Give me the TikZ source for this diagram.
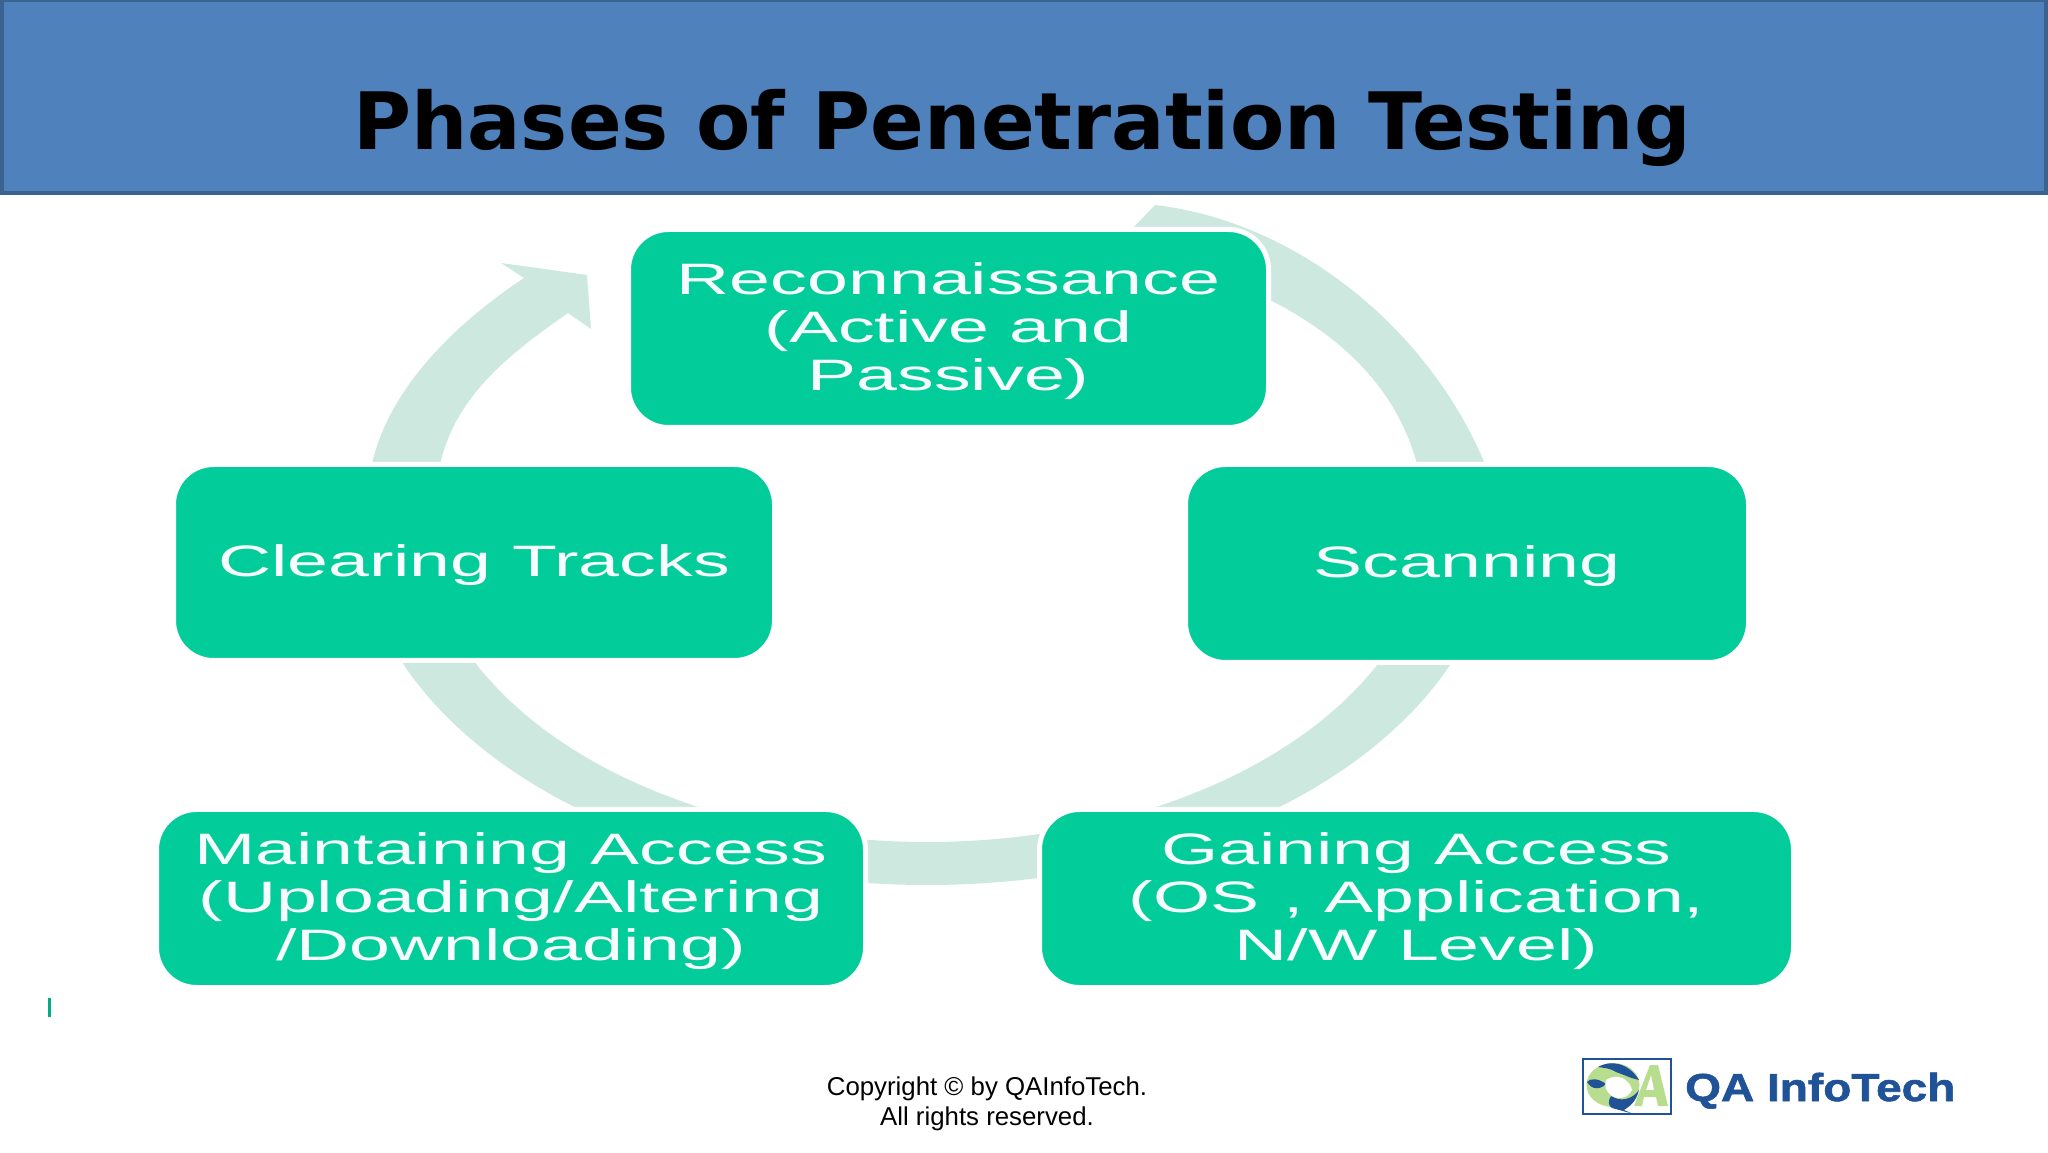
\documentclass[tikz,border=0pt]{standalone}
\usepackage{fontspec}
\setmainfont{Liberation Sans}
\newfontfamily\boxfont[FakeStretch=1.67]{Liberation Sans}
\newfontfamily\titlefont{DejaVu Sans}
\newfontfamily\logofont[FakeStretch=1.18,FakeBold=1.5]{Liberation Sans Bold}
\definecolor{headfill}{HTML}{4F81BD}
\definecolor{headline}{HTML}{3A6390}
\definecolor{boxgreen}{HTML}{02CC99}
\definecolor{ringcol}{HTML}{CDE9DF}
\definecolor{logoblue}{HTML}{1F5296}
\definecolor{logogreen}{HTML}{B9DD8E}
\tikzset{
  phase/.style={draw=white,line width=5pt,fill=boxgreen,rounded corners=40pt,inner sep=0pt},
  phasetext/.style={yshift=-3pt,inner sep=0pt,text=white!97!boxgreen,align=center,font=\boxfont\fontsize{44}{48}\selectfont},
  ring/.style={fill=ringcol,draw=none}
}
\begin{document}
\begin{tikzpicture}[x=1pt,y=1pt]
\useasboundingbox (0,0) rectangle (2048,1152);
\fill[white] (0,0) rectangle (2048,1152);
% header
\node[draw=headline,line width=4pt,fill=headfill,minimum width=2044pt,minimum height=193pt,inner sep=0pt] (header) at (1024,1055.5) {};
\node[font=\titlefont\bfseries\fontsize{79.2}{90}\selectfont,anchor=base,text=black] (title) at (1022,1002) {Phases of Penetration Testing};
% lower ring: left, behind Clearing, along the bottom, to Scanning
\fill[ring] (927,630) ++(172:569 and 363) arc[start angle=172,end angle=360,x radius=569,y radius=363]
  -- (1430,630) arc[start angle=0,end angle=-188,x radius=503,y radius=320] -- cycle;
% left arrow with head
\fill[ring] (372,688) .. controls (388,760) and (450,825) .. (524,874)
  -- (501,889) -- (587,877) -- (591,823) -- (568,839)
  .. controls (505,795) and (456,755) .. (440,688) -- cycle;
% upper right arrow
\fill[ring] (1133,924) -- (1155,947)
  .. controls (1300,930) and (1430,820) .. (1485,688)
  -- (1417,688) .. controls (1395,770) and (1330,830) .. (1230,870) -- cycle;
% phases
\node[phase,minimum width=640pt,minimum height=198pt,label={[phasetext]center:{Reconnaissance\\(Active and\\Passive)}}] (recon) at (948.5,823.5) {};
\node[phase,minimum width=563pt,minimum height=198pt,label={[phasetext]center:{Scanning}}] (scan) at (1467,588.5) {};
\node[phase,minimum width=601pt,minimum height=196pt,label={[phasetext]center:{Clearing Tracks}}] (clear) at (474,589.5) {};
\node[phase,minimum width=709pt,minimum height=178pt,label={[phasetext]center:{Maintaining Access\\(Uploading/Altering\\/Downloading)}}] (maint) at (511,253.5) {};
\node[phase,minimum width=754pt,minimum height=178pt,label={[phasetext]center:{Gaining Access\\(OS\hspace{4pt} , Application,\\N/W Level)}}] (gain) at (1416.5,253.5) {};
% tick
\fill[boxgreen!85!black] (47.5,135) rectangle (50.5,154);
% footer
\node[font=\fontsize{25.8}{30}\selectfont,align=center,text=black] (copy) at (987,48.5) {Copyright © by QAInfoTech.\\All rights reserved.};
% logo
\draw[logoblue,line width=2pt,fill=white] (1583,38) rectangle (1671,93);
\fill[logogreen,even odd rule] (1634,46) -- (1650,87) -- (1658,87) -- (1668,46) -- (1658,46) -- (1656,55) -- (1644,55) -- (1642,46) -- cycle
  (1646,62) -- (1654,62) -- (1651,77) -- cycle;
\fill[logogreen] (1613,67) ellipse (26.5pt and 22pt);
% globe seas
\fill[logoblue] (1598,85) .. controls (1610,92) and (1628,90) .. (1639,72) .. controls (1630,74) and (1622,78) .. (1616,80) .. controls (1610,84) and (1604,84) .. (1598,85) -- cycle;
\fill[logoblue] (1587,70) .. controls (1592,62) and (1600,62) .. (1606,68) .. controls (1598,74) and (1590,74) .. (1587,70) -- cycle;
\fill[white] (1606,72) .. controls (1618,80) and (1630,72) .. (1632,62) .. controls (1628,54) and (1620,52) .. (1612,56) .. controls (1606,60) and (1604,66) .. (1606,72) -- cycle;
\fill[logoblue] (1611,56) .. controls (1620,50) and (1632,52) .. (1639,62) .. controls (1636,50) and (1630,46) .. (1624,42) -- (1632,38.5) -- (1612,44) .. controls (1608,46) and (1608,52) .. (1611,56) -- cycle;
\node[font=\logofont\fontsize{39}{44}\selectfont,text=logoblue,anchor=base west,inner sep=0pt] (logotext) at (1685,51) {QA InfoTech};
\end{tikzpicture}
\end{document}
